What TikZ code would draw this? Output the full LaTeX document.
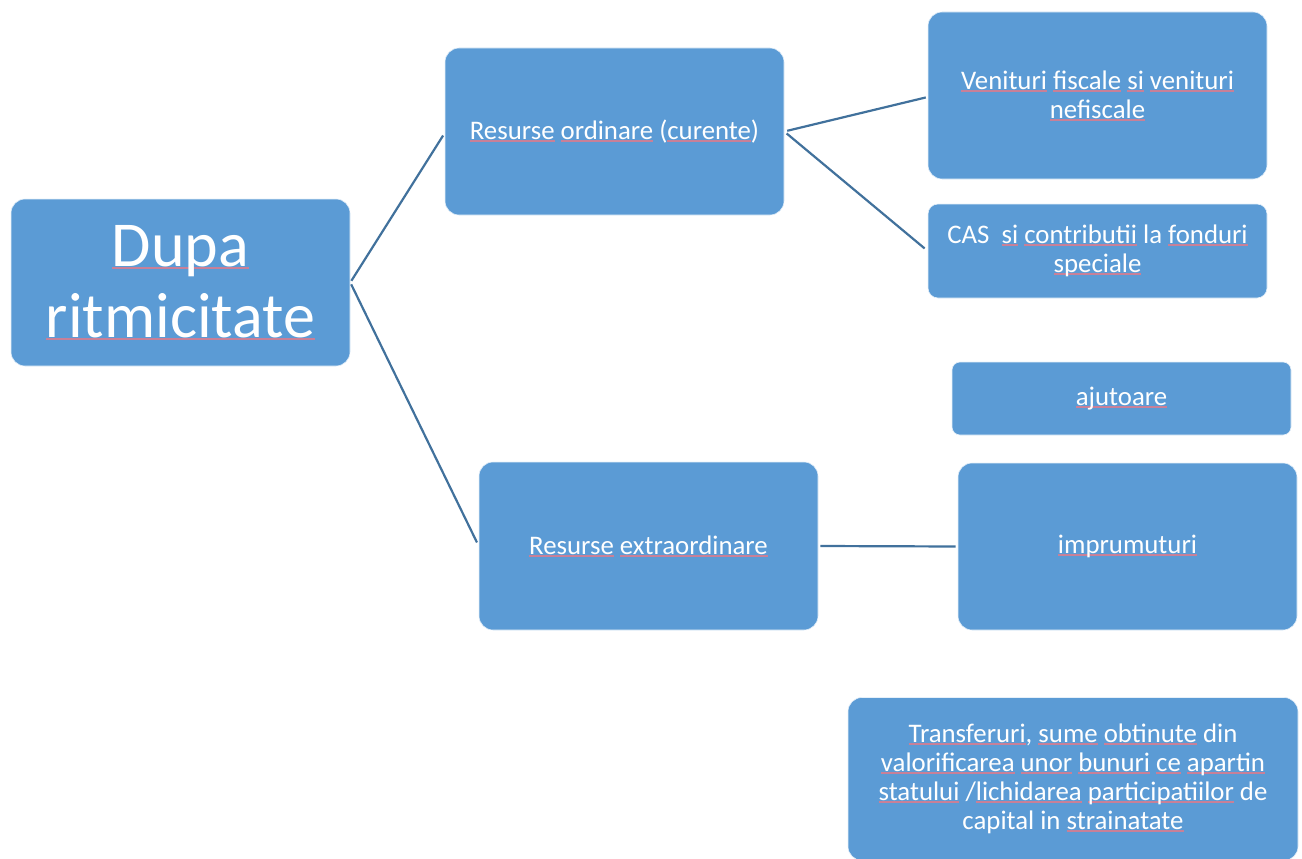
\documentclass[tikz,border=0pt]{standalone}
\usepackage{fontspec}
\setmainfont{Carlito}
\definecolor{boxblue}{HTML}{5B9BD5}
\definecolor{linkblue}{HTML}{41719C}
\definecolor{splred}{HTML}{C88098}
% word with a thin red underline
\newsavebox\splbox
\newcommand\spl[1]{\sbox\splbox{#1}\rlap{\color{splred}\rule[-2.4pt]{\wd\splbox}{1.8pt}}\usebox\splbox}
\begin{document}
\begin{tikzpicture}[x=1pt,y=-1pt,
  card/.style={rectangle, rounded corners=14pt, fill=boxblue, draw=white!85!boxblue, line width=0.6pt,
    text=white, align=center, inner sep=0pt, font=\fontsize{26.8}{29}\selectfont},
  link/.style={draw=linkblue, line width=2.2pt}]
\useasboundingbox (0,0) rectangle (1302,859);

\node[card, minimum width=339pt, minimum height=167pt,
  font=\fontsize{64}{71}\selectfont] (dupa) at (180.5,282.5) {\spl{Dupa}\\\spl{ritmicitate}};

\node[card, minimum width=339pt, minimum height=167pt] (ord) at (614.5,131.5)
  {\spl{Resurse} \spl{ordinare} (\spl{curente})};
\node[card, minimum width=339pt, minimum height=168pt] (extra) at (648.5,546)
  {\spl{Resurse} \spl{extraordinare}};

\node[card, minimum width=339pt, minimum height=167pt] (venit) at (1097.5,95.5)
  {\spl{Venituri} \spl{fiscale} \spl{si} \spl{venituri}\\\spl{nefiscale}};
\node[card, rounded corners=10pt, minimum width=339pt, minimum height=94pt] (cas) at (1097.5,251)
  {CAS\ \ \spl{si} \spl{contributii} la \spl{fonduri}\\\spl{speciale}};
\node[card, rounded corners=8pt, minimum width=339pt, minimum height=73pt] (ajut) at (1121.5,398.5)
  {\spl{ajutoare}};
\node[card, minimum width=339pt, minimum height=167pt] (impr) at (1127.5,546.5)
  {\spl{imprumuturi}};
\node[card, minimum width=450pt, minimum height=163pt] (transf) at (1073,779)
  {\spl{Transferuri}, \spl{sume} \spl{obtinute} din\\
   \spl{valorificarea} \spl{unor} \spl{bunuri} \spl{ce} \spl{apartin}\\
   \spl{statului} /\spl{lichidarea} \spl{participatiilor} de\\
   capital in \spl{strainatate}};

% connectors
\draw[link, shorten <=2pt, shorten >=3pt] (dupa.east) -- (ord.west |- 0,133);
\draw[link, shorten <=2pt, shorten >=4pt] (dupa.east) -- (extra.west);
\draw[link, shorten <=3pt, shorten >=2pt] (ord.east) -- (venit.west |- 0,97);
\draw[link, shorten <=3pt, shorten >=4pt] (ord.east) -- (cas.west);
\draw[link, shorten <=2pt, shorten >=2pt] (extra.east) -- (impr.west);
\end{tikzpicture}
\end{document}
